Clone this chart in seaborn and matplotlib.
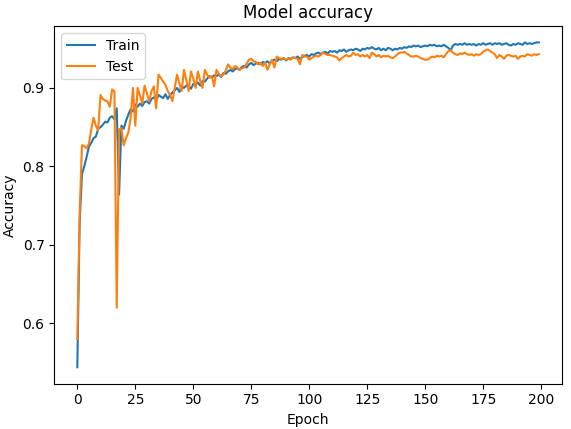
import numpy as np
import pandas as pd
import matplotlib
matplotlib.use("Agg")
import matplotlib.pyplot as plt
import seaborn as sns

# accuracy per epoch
train_acc = [
    0.544, 0.728, 0.790, 0.800, 0.812, 0.825, 0.830, 0.836, 0.838, 0.848,
    0.850, 0.853, 0.857, 0.856, 0.862, 0.864, 0.860, 0.874, 0.764, 0.852,
    0.848, 0.858, 0.866, 0.873, 0.870, 0.879, 0.876, 0.880, 0.877, 0.882,
    0.883, 0.880, 0.886, 0.888, 0.884, 0.891, 0.889, 0.887, 0.892, 0.886,
    0.891, 0.894, 0.897, 0.900, 0.895, 0.902, 0.900, 0.903, 0.902, 0.899,
    0.905, 0.904, 0.907, 0.903, 0.909, 0.908, 0.912, 0.915, 0.913, 0.916,
    0.915, 0.917, 0.914, 0.919, 0.918, 0.921, 0.923, 0.921, 0.924, 0.925,
    0.923, 0.927, 0.928, 0.926, 0.930, 0.932, 0.929, 0.931, 0.932, 0.930,
    0.933, 0.932, 0.934, 0.931, 0.935, 0.936, 0.934, 0.937, 0.936, 0.938,
    0.935, 0.938, 0.937, 0.939, 0.938, 0.940, 0.937, 0.939, 0.941, 0.942,
    0.940, 0.943, 0.942, 0.944, 0.945, 0.943, 0.945, 0.946, 0.944, 0.947,
    0.946, 0.947, 0.945, 0.948, 0.947, 0.949, 0.946, 0.948, 0.949, 0.948,
    0.950, 0.949, 0.947, 0.950, 0.949, 0.951, 0.950, 0.952, 0.950, 0.949,
    0.951, 0.948, 0.950, 0.948, 0.951, 0.950, 0.948, 0.950, 0.949, 0.951,
    0.950, 0.952, 0.951, 0.953, 0.952, 0.954, 0.953, 0.954, 0.952, 0.953,
    0.954, 0.953, 0.955, 0.954, 0.955, 0.953, 0.954, 0.953, 0.955, 0.953,
    0.951, 0.948, 0.954, 0.956, 0.955, 0.956, 0.955, 0.957, 0.955, 0.956,
    0.955, 0.956, 0.954, 0.956, 0.955, 0.957, 0.955, 0.956, 0.957, 0.955,
    0.957, 0.956, 0.957, 0.955, 0.956, 0.957, 0.955, 0.954, 0.956, 0.955,
    0.957, 0.956, 0.955, 0.958, 0.956, 0.957, 0.956, 0.957, 0.958, 0.958,
]

test_acc = [
    0.580, 0.740, 0.827, 0.826, 0.823, 0.829, 0.847, 0.862, 0.852, 0.846,
    0.891, 0.886, 0.884, 0.883, 0.876, 0.898, 0.896, 0.620, 0.847, 0.849,
    0.827, 0.836, 0.843, 0.862, 0.900, 0.852, 0.900, 0.891, 0.880, 0.903,
    0.893, 0.883, 0.896, 0.902, 0.874, 0.917, 0.913, 0.908, 0.904, 0.896,
    0.891, 0.883, 0.900, 0.917, 0.906, 0.896, 0.923, 0.910, 0.896, 0.921,
    0.912, 0.900, 0.921, 0.909, 0.900, 0.923, 0.917, 0.913, 0.915, 0.902,
    0.923, 0.918, 0.915, 0.917, 0.922, 0.930, 0.926, 0.924, 0.928, 0.926,
    0.923, 0.925, 0.926, 0.931, 0.936, 0.937, 0.934, 0.933, 0.930, 0.932,
    0.928, 0.932, 0.923, 0.930, 0.936, 0.926, 0.940, 0.938, 0.937, 0.938,
    0.936, 0.937, 0.936, 0.939, 0.938, 0.937, 0.930, 0.942, 0.940, 0.940,
    0.936, 0.938, 0.940, 0.941, 0.940, 0.942, 0.945, 0.943, 0.942, 0.942,
    0.941, 0.940, 0.939, 0.935, 0.938, 0.940, 0.942, 0.940, 0.941, 0.945,
    0.942, 0.943, 0.940, 0.942, 0.940, 0.942, 0.938, 0.945, 0.943, 0.940,
    0.942, 0.939, 0.941, 0.940, 0.941, 0.939, 0.938, 0.940, 0.943, 0.945,
    0.945, 0.946, 0.944, 0.942, 0.940, 0.940, 0.941, 0.940, 0.938, 0.937,
    0.936, 0.936, 0.938, 0.940, 0.939, 0.941, 0.940, 0.941, 0.939, 0.943,
    0.947, 0.948, 0.945, 0.943, 0.942, 0.944, 0.943, 0.945, 0.943, 0.942,
    0.943, 0.941, 0.943, 0.942, 0.943, 0.946, 0.948, 0.949, 0.947, 0.945,
    0.943, 0.938, 0.942, 0.940, 0.937, 0.941, 0.942, 0.941, 0.940, 0.941,
    0.937, 0.940, 0.941, 0.940, 0.943, 0.942, 0.941, 0.943, 0.942, 0.943,
]

epochs = np.arange(len(train_acc))

df = pd.DataFrame({"epoch": epochs, "Train": train_acc, "Test": test_acc})
df = df.melt(id_vars="epoch", var_name="split", value_name="acc")

fig, ax = plt.subplots(figsize=(5.71, 4.29), dpi=100)
fig.subplots_adjust(left=0.095, right=0.984, top=0.939, bottom=0.106)

sns.lineplot(data=df, x="epoch", y="acc", hue="split",
             palette=["#1f77b4", "#ff7f0e"], linewidth=1.5, ax=ax)

ax.set_title("Model accuracy")
ax.set_xlabel("Epoch")
ax.set_ylabel("Accuracy")
ax.legend(loc="upper left")

fig.savefig("out.png", dpi=100)
